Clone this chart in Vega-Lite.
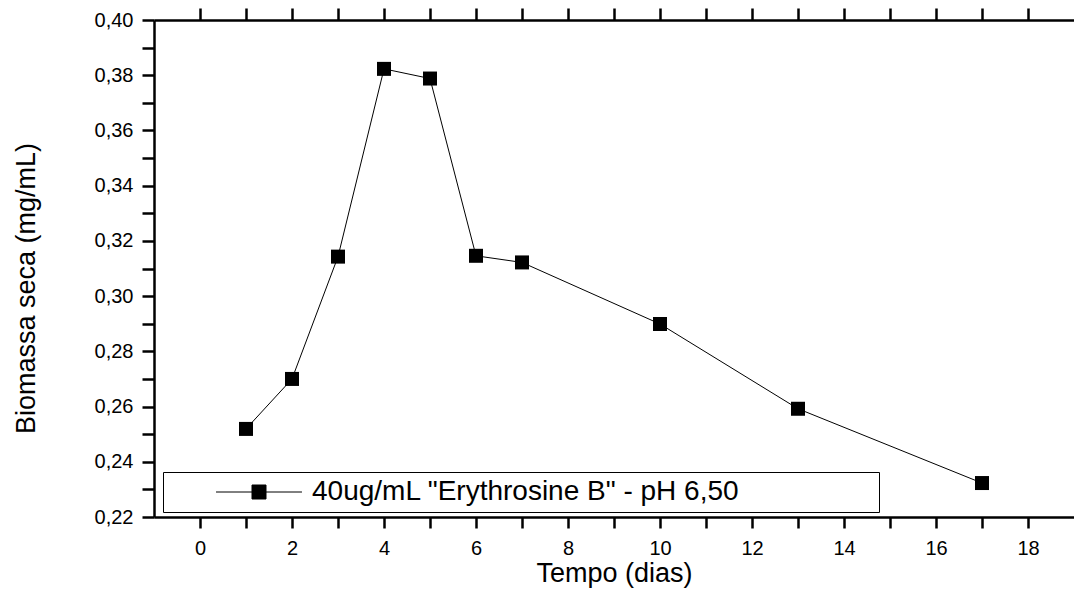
{
  "$schema": "https://vega.github.io/schema/vega-lite/v6.json",
  "width": 920,
  "height": 497,
  "autosize": {"type": "none"},
  "padding": {"left": 154, "top": 20, "right": 0, "bottom": 88},
  "background": "white",
  "config": {
    "view": {"stroke": null},
    "font": "Liberation Sans",
    "axis": {
      "grid": false,
      "domainColor": "black",
      "domainWidth": 2.5,
      "tickColor": "black",
      "tickWidth": 2.5,
      "labelColor": "black",
      "labelFont": "Liberation Sans",
      "labelFontSize": 20,
      "titleColor": "black",
      "titleFont": "Liberation Sans",
      "titleFontWeight": "normal"
    }
  },
  "data": {
    "values": [
      {"dia": 1, "biomassa": 0.2519, "serie": "40ug/mL \"Erythrosine B\" - pH 6,50"},
      {"dia": 2, "biomassa": 0.2700, "serie": "40ug/mL \"Erythrosine B\" - pH 6,50"},
      {"dia": 3, "biomassa": 0.3143, "serie": "40ug/mL \"Erythrosine B\" - pH 6,50"},
      {"dia": 4, "biomassa": 0.3823, "serie": "40ug/mL \"Erythrosine B\" - pH 6,50"},
      {"dia": 5, "biomassa": 0.3788, "serie": "40ug/mL \"Erythrosine B\" - pH 6,50"},
      {"dia": 6, "biomassa": 0.3146, "serie": "40ug/mL \"Erythrosine B\" - pH 6,50"},
      {"dia": 7, "biomassa": 0.3122, "serie": "40ug/mL \"Erythrosine B\" - pH 6,50"},
      {"dia": 10, "biomassa": 0.2899, "serie": "40ug/mL \"Erythrosine B\" - pH 6,50"},
      {"dia": 13, "biomassa": 0.2592, "serie": "40ug/mL \"Erythrosine B\" - pH 6,50"},
      {"dia": 17, "biomassa": 0.2323, "serie": "40ug/mL \"Erythrosine B\" - pH 6,50"}
    ]
  },
  "layer": [
    {
      "mark": {"type": "line", "color": "black", "strokeWidth": 1},
      "encoding": {
        "x": {
          "field": "dia", "type": "quantitative",
          "scale": {"domain": [-1, 19], "nice": false, "zero": false},
          "axis": {
            "orient": "bottom",
            "title": "Tempo (dias)",
            "titleFontSize": 27,
            "titleY": 43,
            "titleBaseline": "top",
            "values": [0,1,2,3,4,5,6,7,8,9,10,11,12,13,14,15,16,17,18],
            "tickSize": 11,
            "labelPadding": 10,
            "labelExpr": "datum.value % 2 == 0 ? datum.label : ''",
            "encode": {"ticks": {"update": {"y2": {"signal": "datum.value % 2 == 0 ? 11 : 6"}}}}
          }
        },
        "y": {
          "field": "biomassa", "type": "quantitative",
          "scale": {"domain": [0.22, 0.40], "nice": false, "zero": false},
          "axis": {
            "orient": "left",
            "title": "Biomassa seca (mg/mL)",
            "titleFontSize": 27,
            "titleX": -120,
            "titleY": 268,
            "titleBaseline": "alphabetic",
            "values": [0.22,0.23,0.24,0.25,0.26,0.27,0.28,0.29,0.30,0.31,0.32,0.33,0.34,0.35,0.36,0.37,0.38,0.39,0.40],
            "tickSize": 12,
            "labelPadding": 9,
            "labelExpr": "round(datum.value*100) % 2 == 0 ? replace(format(datum.value, '.2f'), '.', ',') : ''",
            "encode": {"ticks": {"update": {"x2": {"signal": "round(datum.value*100) % 2 == 0 ? -12 : -6"}}}}
          }
        }
      }
    },
    {
      "mark": {"type": "square", "size": 196, "filled": true, "opacity": 1},
      "encoding": {
        "x": {
          "field": "dia", "type": "quantitative",
          "scale": {"domain": [-1, 19], "nice": false, "zero": false},
          "axis": {
            "orient": "top",
            "title": null,
            "labels": false,
            "values": [0,1,2,3,4,5,6,7,8,9,10,11,12,13,14,15,16,17,18],
            "tickSize": 12,
            "encode": {"ticks": {"update": {"y2": {"signal": "datum.value % 2 == 0 ? 12 : 6"}}}}
          }
        },
        "y": {
          "field": "biomassa", "type": "quantitative",
          "scale": {"domain": [0.22, 0.40], "nice": false, "zero": false},
          "axis": {
            "orient": "right",
            "title": null,
            "labels": false,
            "domain": false,
            "values": [0.22,0.23,0.24,0.25,0.26,0.27,0.28,0.29,0.30,0.31,0.32,0.33,0.34,0.35,0.36,0.37,0.38,0.39,0.40],
            "tickSize": 12,
            "encode": {"ticks": {"update": {"x2": {"signal": "round(datum.value*100) % 2 == 0 ? -12 : -6"}}}}
          }
        },
        "color": {
          "field": "serie", "type": "nominal",
          "scale": {"range": ["black"]},
          "legend": {
            "title": null,
            "orient": "none",
            "legendX": 9,
            "legendY": 452,
            "strokeColor": "black",
            "padding": 6,
            "symbolType": "M-6.14,0H-1M1,0H6.14M-1,-1H1V1H-1ZM87.3,0",
            "symbolSize": 196,
            "symbolOffset": 76,
            "symbolStrokeColor": "black",
            "symbolStrokeWidth": 1,
            "symbolFillColor": "black",
            "symbolOpacity": 1,
            "labelOffset": 39,
            "labelFont": "Liberation Sans",
            "labelFontSize": 28,
            "labelColor": "black",
            "labelLimit": 2000,
            "encode": {
              "symbols": {
                "update": {
                  "shape": {"value": "M-6.14,0H-1M1,0H6.14M-1,-1H1V1H-1ZM87.3,0"},
                  "fill": {"value": "black"},
                  "stroke": {"value": "black"},
                  "strokeWidth": {"value": 1},
                  "strokeOpacity": {"value": 1},
                  "fillOpacity": {"value": 1},
                  "opacity": {"value": 1}
                }
              }
            }
          }
        }
      }
    }
  ],
  "resolve": {"axis": {"x": "independent", "y": "independent"}}
}
